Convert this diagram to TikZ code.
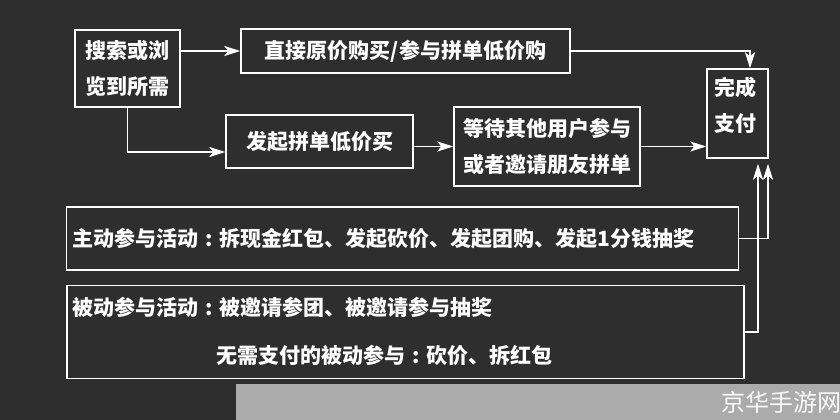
\documentclass[tikz,border=0pt]{standalone}
\usepackage{fontspec}
\newfontfamily\cjk{Noto Sans CJK SC}
\usetikzlibrary{arrows.meta}
\definecolor{bgc}{HTML}{2E2E2E}
\definecolor{wmgray}{HTML}{ABABAB}
\newcommand{\mycolon}{\hspace{0.33em}:\hspace{0.33em}}
\tikzset{
  box/.style={draw=white, line width=1.4pt, inner sep=0pt, align=center, text=white,
    font=\cjk\bfseries\fontsize{21}{36}\selectfont},
  txt/.style={inner sep=0pt, text=white, align=center, font=\cjk\bfseries\fontsize{21}{36}\selectfont},
  arr/.style={draw=white, line width=1.8pt, -{Stealth[length=16pt,width=10pt,inset=4pt]}},
}
\begin{document}
\begin{tikzpicture}[x=1pt,y=-1pt]
\useasboundingbox[fill=bgc] (0,0) rectangle (840,420);
% watermark band
\fill[wmgray] (236,384) rectangle (840,420);
\node[inner sep=0pt, text=white!92!wmgray, font=\cjk\fontsize{24}{26}\selectfont] (wm) at (781,402) {京华手游网};
% boxes
\node[box, minimum width=105pt, minimum height=77pt] (a) at (127.5,68.5) {搜索或浏\\览到所需};
\node[box, minimum width=329pt, minimum height=44pt] (b) at (405.5,51) {直接原价购买/参与拼单低价购};
\node[box, minimum width=187pt, minimum height=53pt] (c) at (319.5,141.5) {发起拼单低价买};
\node[box, minimum width=186pt, minimum height=79pt] (d) at (547,146.5) {等待其他用户参与\\或者邀请朋友拼单};
\node[box, minimum width=61pt, minimum height=89pt] (e) at (737.5,113.5) {};
\node[txt] (etxt) at (735,105) {完成\\支付};
\node[box, minimum width=672pt, minimum height=63pt] (f) at (402.5,238.5) {};
\node[txt, anchor=west] (ftxt) at (72,239) {主动参与活动\mycolon 拆现金红包、发起砍价、发起团购、发起1分钱抽奖};
\node[box, minimum width=677pt, minimum height=93pt] (g) at (405.5,332) {};
\node[txt, anchor=west] (gtxt1) at (72,307) {被动参与活动\mycolon 被邀请参团、被邀请参与抽奖};
\node[txt] (gtxt2) at (384.5,355) {无需支付的被动参与\mycolon 砍价、拆红包};
% connectors
\draw[arr] (a.east |- b.west) -- (b.west);
\draw[arr] (a.south) |- ([yshift=-10.5pt]c.west);
\draw[arr] (c.east |- d.west) -- (d.west);
\draw[arr] (d.east) -- (d.east -| e.west);
\draw[arr] (b.east) -| ([xshift=12.5pt]e.north);
\draw[arr, shorten >=5pt] (f.east) -| ([xshift=30.5pt]e.south);
\draw[arr, shorten >=5pt] (g.east) -| ([xshift=20.5pt]e.south);
\end{tikzpicture}
\end{document}
